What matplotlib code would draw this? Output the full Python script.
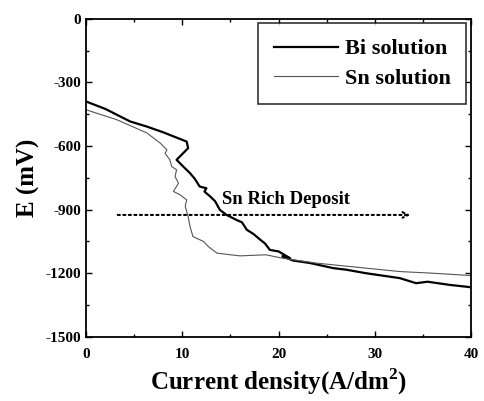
import matplotlib.pyplot as plt

plt.rcParams['font.family'] = ['Liberation Serif', 'DejaVu Serif']
plt.rcParams['axes.unicode_minus'] = False
plt.rcParams['mathtext.fontset'] = 'custom'
plt.rcParams['mathtext.rm'] = 'Liberation Serif'
plt.rcParams['mathtext.bf'] = 'Liberation Serif:bold'

# Bi solution (black, thick)
bi_x = [0, 2.0, 4.57, 6.3, 8.0, 10.45, 10.6, 9.4, 10.1, 10.8, 11.3, 11.8, 12.5, 12.3,
        12.9, 13.4, 13.9, 14.6, 15.6, 16.2, 16.7, 17.4, 18.1, 18.6, 19.1, 20.0, 21.2,
        20.4, 21.5, 23.3, 25.7, 27.0, 29.1, 32.6, 34.3, 35.5, 37.8, 40]
bi_y = [-390, -425, -484, -508, -535, -579, -610, -665, -697, -728, -755, -791, -799, -815,
        -838, -860, -901, -925, -948, -960, -995, -1015, -1042, -1060, -1090, -1097, -1129,
        -1120, -1140, -1152, -1176, -1183, -1200, -1223, -1247, -1240, -1255, -1266]

# Sn solution (gray, thin)
sn_x = [0, 3.2, 6.3, 7.7, 8.4, 8.2, 8.7, 8.9, 9.4, 9.24, 9.6, 9.07, 9.76, 10.45, 10.3,
        10.6, 10.8, 11.1, 12.2, 12.7, 13.6, 15.0, 16.0, 18.7, 20.4, 23.9, 29.1, 32.6,
        36.1, 40]
sn_y = [-429, -476, -538, -586, -618, -634, -665, -697, -712, -744, -775, -814, -830, -854,
        -885, -932, -980, -1027, -1050, -1074, -1105, -1113, -1118, -1113, -1129, -1152,
        -1176, -1192, -1200, -1211]

arrow_x = [3.0, 34.0]
arrow_y = -925

fig = plt.figure(figsize=(4.84, 4.01), dpi=100)
ax = fig.add_axes([0.178, 0.16, 0.795, 0.793])

ax.plot(bi_x, bi_y, color='black', lw=1.6, label='Bi solution')
ax.plot(sn_x, sn_y, color='#555555', lw=0.8, label='Sn solution')

ax.annotate('', xy=(arrow_x[1], arrow_y), xytext=(arrow_x[0], arrow_y),
            arrowprops=dict(arrowstyle='->', linestyle=':', lw=1.5, color='black'))
ax.text(14.1, -850, 'Sn Rich Deposit', fontsize=13.5, fontweight='bold', va='center')

ax.set_xlim(0, 40)
ax.set_ylim(-1500, 0)
ax.set_xticks([0, 10, 20, 30, 40])
ax.set_xticks([5, 15, 25, 35], minor=True)
ax.set_yticks([-1500, -1200, -900, -600, -300, 0])
ax.set_yticks([-1350, -1050, -750, -450, -150], minor=True)
ax.tick_params(which='both', direction='in', top=True, right=True)
ax.tick_params(which='major', length=4, width=1)
ax.tick_params(which='minor', length=2.5, width=1)
ax.tick_params(axis='x', pad=8)
for lbl in ax.get_xticklabels() + ax.get_yticklabels():
    lbl.set_fontweight('bold')
    lbl.set_fontsize(11)
for s in ax.spines.values():
    s.set_linewidth(1.3)

ax.set_xlabel('Current density(A/dm$^{\\mathbf{2}}$)', fontsize=18, fontweight='bold',
              labelpad=4)
ax.set_ylabel('E (mV)', fontsize=18, fontweight='bold')

leg = ax.legend(loc='upper right', frameon=True, fancybox=False,
                edgecolor='black', handlelength=2.9, borderpad=0.7, labelspacing=0.4,
                handletextpad=0.3, borderaxespad=0.2,
                prop={'weight': 'bold', 'size': 16})
leg.get_frame().set_linewidth(1.2)

plt.savefig('out.png', dpi=100)
